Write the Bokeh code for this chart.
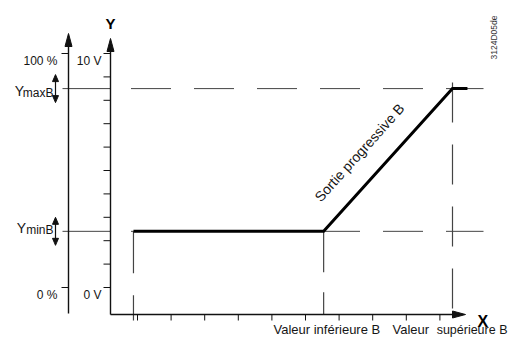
from bokeh.plotting import figure
from bokeh.models import Range1d
from bokeh.embed import file_html
from bokeh.resources import INLINE
from bokeh.core.properties import value
import math

# ---------------- data (diagram values) ----------------
y_tick_values = [0, 1, 2, 3, 4, 5, 6, 7, 8, 9, 10]     # volts
x_tick_values = [0, 1, 2, 3, 4, 5, 6, 7, 8, 9]
y_end_values = [0, 10]
volt_labels = ["0 V", "10 V"]
pct_labels = ["0 %", "100 %"]
y_min_b = 2.4
y_max_b = 8.5
x_start = -0.12
x_lower_b = 5.54
x_upper_b = 9.375
x_end = 9.82
curve_x = [x_start, x_lower_b, x_upper_b, x_end]
curve_y = [y_min_b, y_min_b, y_max_b, y_max_b]
x_label_lower = "Valeur inférieure B"
x_label_upper = ["Valeur", "supérieure B"]
curve_label = "Sortie progressive B"
doc_code = "3124D05de"

# ---------------- layout (pixel geometry) ----------------
OFF = 0
W, H = 509, 338
X0, DX = 137.0, 33.6   # page px of x=0, px per unit
Y0, DY = 287.0, 23.4   # page px of y=0, px per volt


def fx(px):
    return (px - X0) / DX


def fy(py):
    return (Y0 - py) / DY


def gx(v):
    return X0 + v * DX


def gy(v):
    return Y0 - v * DY


p = figure(width=W, height=H, output_backend="svg", toolbar_location=None,
           x_range=Range1d(fx(OFF), fx(OFF + W)), y_range=Range1d(fy(OFF + H), fy(OFF)),
           x_axis_location=None, y_axis_location=None, min_border=0,
           background_fill_color="white", border_fill_color="white")
p.outline_line_color = None
p.grid.visible = False

AX_MAIN = 110.0
AX_SEC = 68.0
AX_X = 314.0
INK = "#111111"
TXT = "#151515"
DASH_C = "#444444"
FONT = value("Liberation Sans")


def tri(tip_px, tip_py, direction, length, width):
    # returns data-space triangle for an arrow head
    if direction == "up":
        xs = [tip_px, tip_px - width / 2, tip_px + width / 2]
        ys = [tip_py, tip_py + length, tip_py + length]
    elif direction == "down":
        xs = [tip_px, tip_px - width / 2, tip_px + width / 2]
        ys = [tip_py, tip_py - length, tip_py - length]
    else:  # right
        xs = [tip_px, tip_px - length, tip_px - length]
        ys = [tip_py, tip_py - width / 2, tip_py + width / 2]
    return [fx(v) for v in xs], [fy(v) for v in ys]


# ---- horizontal reference lines (Ymin / Ymax) ----
for yv in (y_min_b, y_max_b):
    p.line([fx(62), fx(AX_MAIN)], [yv, yv], line_color=DASH_C, line_width=1)
    p.line([fx(130.5), fx(483)], [yv, yv], line_color=DASH_C, line_width=1,
           line_dash="40 23")

# ---- vertical dashed lines ----
p.line([x_upper_b, x_upper_b], [fy(82), fy(AX_X)], line_color=DASH_C, line_width=1.2,
       line_dash="40 22")
p.line([x_lower_b, x_lower_b], [y_min_b, fy(AX_X)], line_color=DASH_C, line_width=1.2,
       line_dash="41 20")
p.line([x_start, x_start], [y_min_b, fy(320)], line_color=DASH_C, line_width=1.2,
       line_dash="42 22")

# ---- axes ----
p.line([fx(AX_MAIN), fx(AX_MAIN)], [fy(AX_X), fy(45)], line_color=INK, line_width=1.4)
xs, ys = tri(AX_MAIN, 38, "up", 13, 7)
p.patch(xs, ys, color=INK)
p.line([fx(AX_SEC), fx(AX_SEC)], [fy(313), fy(40)], line_color=INK, line_width=1.4)
xs, ys = tri(AX_SEC, 33, "up", 13, 7)
p.patch(xs, ys, color=INK)
p.line([fx(AX_MAIN), fx(455)], [fy(AX_X), fy(AX_X)], line_color=INK, line_width=1.4)
xs, ys = tri(465, AX_X, "right", 13, 7)
p.patch(xs, ys, color=INK)

# ticks
p.segment(x0=[fx(103)] * len(y_tick_values), x1=[fx(AX_MAIN)] * len(y_tick_values),
          y0=y_tick_values, y1=y_tick_values, line_color=INK, line_width=1)
p.segment(x0=[fx(61)] * len(y_end_values), x1=[fx(AX_SEC)] * len(y_end_values),
          y0=y_end_values, y1=y_end_values, line_color=INK, line_width=1)
p.segment(x0=x_tick_values, x1=x_tick_values,
          y0=[fy(AX_X)] * len(x_tick_values), y1=[fy(320)] * len(x_tick_values),
          line_color=INK, line_width=1)

# ---- double arrows at Ymin/Ymax ----
for yv in (y_min_b, y_max_b):
    cy = gy(yv)
    p.line([fx(55), fx(55)], [fy(cy - 9), fy(cy + 9)], line_color=INK, line_width=1.2)
    xs, ys = tri(55, cy - 14, "up", 7, 6)
    p.patch(xs, ys, color=INK)
    xs, ys = tri(55, cy + 14, "down", 7, 6)
    p.patch(xs, ys, color=INK)

# ---- characteristic curve ----
p.line(curve_x, curve_y, line_color="black", line_width=3, line_join="miter")

# ---- texts ----
p.text(x=[fx(57)] * 2, y=[v + fy(60) - fy(53) for v in y_end_values], text=pct_labels,
       text_font=FONT, text_font_size="12px", text_align="right",
       text_baseline="alphabetic", text_color=TXT)
p.text(x=[fx(101)] * 2, y=[v + fy(60) - fy(53) for v in y_end_values], text=volt_labels,
       text_font=FONT, text_font_size="12px", text_align="right",
       text_baseline="alphabetic", text_color=TXT)

# Y labels with subscripts
p.text(x=[fx(23.5), fx(25.5)], y=[fy(gy(y_max_b) + 2), fy(gy(y_min_b) - 3)], text=["Y", "Y"],
       text_font=FONT, text_font_size="14px", text_align="right",
       text_baseline="alphabetic", text_color=TXT)
p.text(x=[fx(53), fx(53)], y=[fy(gy(y_max_b) + 4), fy(gy(y_min_b) - 1)], text=["maxB", "minB"],
       text_font=FONT, text_font_size="12px", text_align="right",
       text_baseline="alphabetic", text_color=TXT)

# axis titles
p.text(x=[fx(AX_MAIN)], y=[fy(23)], text=["Y"], text_font=FONT, text_font_size="15px",
       text_font_style="bold", text_align="center", text_baseline="alphabetic",
       text_color="black")
p.text(x=[fx(477)], y=[fy(321)], text=["X"], text_font=FONT, text_font_size="16px",
       text_font_style="bold", text_align="left", text_baseline="alphabetic",
       text_color="black")

# x labels
p.text(x=[fx(273)], y=[fy(329)], text=[x_label_lower], text_font=FONT,
       text_font_size="13px", text_align="left", text_baseline="alphabetic",
       text_color=TXT)
p.text(x=[fx(392)], y=[fy(329)], text=[x_label_upper[0]], text_font=FONT,
       text_font_size="13px", text_align="left", text_baseline="alphabetic",
       text_color=TXT)
p.text(x=[fx(507)], y=[fy(329)], text=[x_label_upper[1]], text_font=FONT,
       text_font_size="12.5px", text_align="right", text_baseline="alphabetic",
       text_color=TXT)

# curve label (rotated along slope)
ang = math.atan2((y_max_b - y_min_b) * DY, (x_upper_b - x_lower_b) * DX)
p.text(x=[fx(359)], y=[fy(152)], text=[curve_label], angle=ang, text_font=FONT,
       text_font_size="14px", text_align="center", text_baseline="middle",
       text_color=TXT)

# document code
p.text(x=[fx(493)], y=[fy(37)], text=[doc_code], angle=math.pi / 2, text_font=FONT,
       text_font_size="8.5px", text_align="center", text_baseline="middle",
       text_color="#333333")

open("out.html", "w").write(file_html(p, INLINE))
